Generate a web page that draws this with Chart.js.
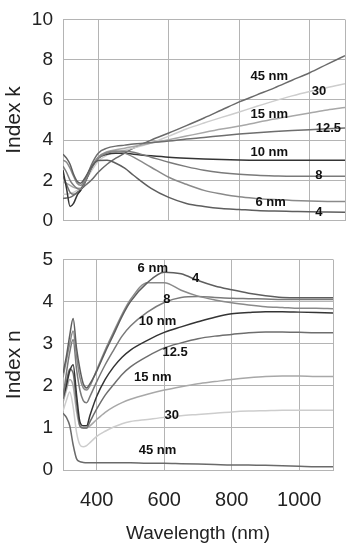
<!DOCTYPE html>
<html>
<head>
<meta charset="utf-8">
<script src="https://cdn.jsdelivr.net/npm/chart.js@4.4.1/dist/chart.umd.min.js"></script>
<style>
  html, body { margin: 0; padding: 0; background: #fff; }
  #wrap { position: relative; width: 353px; height: 550px; }
  canvas { position: absolute; left: 0; }
  #kChart { top: 0; }
  #nChart { top: 240px; }
</style>
</head>
<body>
<div id="wrap">
  <canvas id="kChart" width="353" height="240"></canvas>
  <canvas id="nChart" width="353" height="310"></canvas>
</div>
<script>
// --- data ---
const wavelengths = [300, 310, 320, 330, 340, 350, 360, 370, 380, 400, 425, 450, 475, 500, 550, 600, 650, 700, 750, 800, 850, 900, 950, 1000, 1050, 1100];
const thickness = ["4", "6", "8", "10", "12.5", "15", "30", "45"];

// extinction coefficient k
const k4   = [3.3, 3.1, 2.8, 2.3, 1.95, 1.85, 2.05, 2.35, 2.65, 2.98, 3.0, 2.85, 2.6, 2.25, 1.6, 1.15, 0.85, 0.7, 0.6, 0.55, 0.5, 0.47, 0.45, 0.43, 0.42, 0.41];
const k6   = [3.0, 2.9, 2.6, 2.2, 1.85, 1.75, 1.95, 2.3, 2.65, 3.15, 3.4, 3.45, 3.35, 3.15, 2.65, 2.15, 1.8, 1.5, 1.32, 1.18, 1.1, 1.04, 1.0, 0.97, 0.95, 0.94];
const k8   = [2.7, 2.4, 2.0, 1.75, 1.6, 1.55, 1.8, 2.2, 2.6, 3.1, 3.35, 3.45, 3.45, 3.4, 3.15, 2.9, 2.68, 2.5, 2.38, 2.3, 2.25, 2.22, 2.2, 2.2, 2.2, 2.2];
const k10  = [2.5, 1.6, 0.7, 0.85, 1.25, 1.5, 1.8, 2.2, 2.6, 3.1, 3.3, 3.35, 3.35, 3.3, 3.22, 3.15, 3.1, 3.06, 3.03, 3.01, 3.0, 3.0, 3.0, 3.0, 3.0, 3.0];
const k125 = [2.2, 1.8, 1.4, 1.3, 1.35, 1.5, 1.85, 2.3, 2.75, 3.35, 3.6, 3.7, 3.75, 3.8, 3.88, 3.95, 4.05, 4.13, 4.22, 4.3, 4.37, 4.43, 4.48, 4.52, 4.56, 4.6];
const k15  = [1.9, 1.85, 1.75, 1.65, 1.6, 1.6, 1.85, 2.2, 2.55, 3.15, 3.42, 3.52, 3.6, 3.68, 3.85, 4.02, 4.2, 4.38, 4.55, 4.7, 4.88, 5.05, 5.2, 5.35, 5.5, 5.62];
const k30  = [1.3, 1.3, 1.35, 1.4, 1.5, 1.6, 1.85, 2.15, 2.45, 2.95, 3.25, 3.4, 3.5, 3.6, 3.85, 4.2, 4.55, 4.85, 5.13, 5.4, 5.68, 5.95, 6.2, 6.42, 6.62, 6.8];
const k45  = [1.1, 1.12, 1.15, 1.25, 1.4, 1.55, 1.7, 1.85, 2.0, 2.4, 2.8, 3.1, 3.35, 3.6, 4.0, 4.35, 4.72, 5.1, 5.5, 5.9, 6.25, 6.6, 6.98, 7.35, 7.78, 8.2];

// refractive index n
const n4   = [2.3, 2.7, 3.2, 3.6, 2.9, 2.4, 2.05, 1.95, 2.05, 2.35, 2.8, 3.22, 3.65, 4.0, 4.45, 4.7, 4.66, 4.5, 4.37, 4.28, 4.2, 4.14, 4.1, 4.09, 4.09, 4.09];
const n6   = [2.2, 2.6, 3.0, 3.3, 2.7, 2.2, 1.95, 1.9, 2.0, 2.38, 2.85, 3.28, 3.7, 4.05, 4.45, 4.45, 4.27, 4.13, 4.04, 3.97, 3.92, 3.88, 3.86, 3.84, 3.84, 3.83];
const n8   = [1.7, 2.3, 2.8, 3.1, 2.4, 1.9, 1.65, 1.6, 1.75, 2.1, 2.5, 2.85, 3.18, 3.42, 3.75, 3.98, 4.1, 4.12, 4.1, 4.08, 4.07, 4.06, 4.05, 4.05, 4.05, 4.05];
const n10  = [1.7, 2.0, 2.35, 2.5, 1.8, 1.15, 1.05, 1.05, 1.3, 1.75, 2.15, 2.45, 2.68, 2.85, 3.08, 3.27, 3.4, 3.52, 3.63, 3.71, 3.74, 3.76, 3.76, 3.75, 3.74, 3.73];
const n125 = [1.8, 2.1, 2.4, 2.3, 1.6, 1.05, 1.0, 1.0, 1.15, 1.45, 1.78, 2.03, 2.27, 2.45, 2.7, 2.9, 3.02, 3.12, 3.18, 3.22, 3.26, 3.28, 3.28, 3.27, 3.26, 3.26];
const n15  = [1.6, 1.9, 2.15, 2.0, 1.4, 1.05, 1.0, 1.0, 1.05, 1.2, 1.37, 1.5, 1.6, 1.68, 1.8, 1.9, 1.98, 2.05, 2.1, 2.15, 2.19, 2.22, 2.23, 2.23, 2.22, 2.22];
const n30  = [1.4, 1.65, 1.85, 1.5, 0.9, 0.6, 0.55, 0.58, 0.65, 0.8, 0.92, 1.02, 1.1, 1.15, 1.2, 1.25, 1.29, 1.32, 1.35, 1.38, 1.4, 1.41, 1.42, 1.42, 1.42, 1.42];
const n45  = [1.35, 1.25, 1.05, 0.6, 0.27, 0.2, 0.18, 0.17, 0.17, 0.17, 0.17, 0.17, 0.17, 0.17, 0.16, 0.16, 0.15, 0.14, 0.13, 0.12, 0.12, 0.11, 0.1, 0.09, 0.08, 0.08];

const xGrid = [300, 400, 600, 800, 1000, 1100];
const xTickLabels = [400, 600, 800, 1000];

// curve labels: [text, wavelength, value]
const kLabels = [["45 nm", 885, 7.18], ["30", 1026, 6.4], ["15 nm", 885, 5.3], ["12.5", 1053, 4.59],
                 ["10 nm", 885, 3.41], ["8", 1026, 2.23], ["6 nm", 889, 0.9], ["4", 1026, 0.42]];
const nLabels = [["6 nm", 566, 4.78], ["4", 693, 4.54], ["8", 608, 4.05], ["10 nm", 580, 3.54],
                 ["12.5", 632, 2.79], ["15 nm", 566, 2.2], ["30", 622, 1.3], ["45 nm", 580, 0.47]];

const lineColors = ["#5e5e5e", "#8a8a8a", "#7a7a7a", "#343434", "#6e6e6e", "#a8a8a8", "#cdcdcd", "#6a6a6a"];

const SANS = '"Liberation Sans", Arial, sans-serif';
const GRID = "#b4b4b4";

function labelPlugin(items) {
  return {
    id: "curveLabels",
    afterDatasetsDraw(chart) {
      const { ctx, scales: { x, y } } = chart;
      ctx.save();
      ctx.font = "bold 13px " + SANS;
      ctx.fillStyle = "#111";
      ctx.textAlign = "center";
      ctx.textBaseline = "middle";
      items.forEach(([text, wl, v]) => ctx.fillText(text, x.getPixelForValue(wl), y.getPixelForValue(v)));
      ctx.restore();
    }
  };
}

function makeChart(id, series, yMax, yStep, yTitle, bottomPanel, labels) {
  return new Chart(document.getElementById(id), {
    type: "line",
    data: {
      datasets: series.map((vals, i) => ({
        label: thickness[i] + " nm",
        data: vals.map((v, j) => ({ x: wavelengths[j], y: v })),
        borderColor: lineColors[i],
        borderWidth: 1.5,
        pointRadius: 0,
        cubicInterpolationMode: "monotone",
        fill: false
      }))
    },
    options: {
      responsive: false,
      animation: false,
      layout: { padding: bottomPanel ? { top: 18, bottom: 0, left: 0, right: 8 } : { top: 12, bottom: 16, left: 0, right: 8 } },
      plugins: { legend: { display: false }, tooltip: { enabled: false } },
      scales: {
        x: {
          type: "linear",
          min: 300,
          max: 1100,
          afterBuildTicks: s => { s.ticks = xGrid.map(v => ({ value: v })); },
          afterFit: s => { s.height = bottomPanel ? 80 : 0; },
          grid: { color: GRID, drawTicks: false },
          border: { color: GRID },
          ticks: {
            display: bottomPanel,
            padding: 20,
            color: "#222",
            font: { family: SANS, size: 20, lineHeight: 1 },
            maxRotation: 0,
            autoSkip: false,
            callback: v => xTickLabels.includes(v) ? String(v) : ""
          },
          title: {
            display: bottomPanel,
            text: "Wavelength (nm)",
            color: "#222",
            font: { family: SANS, size: 19 },
            padding: { top: 0, bottom: 5 }
          }
        },
        y: {
          min: 0,
          max: yMax,
          afterFit: s => { s.width = 63; },
          grid: { color: GRID, drawTicks: false },
          border: { color: GRID },
          ticks: {
            stepSize: yStep,
            padding: 10,
            color: "#222",
            font: { family: SANS, size: 19, lineHeight: 1 }
          },
          title: {
            display: true,
            text: yTitle,
            color: "#222",
            font: { family: SANS, size: 21 },
            padding: { top: 2, bottom: 0 }
          }
        }
      }
    },
    plugins: [labelPlugin(labels)]
  });
}

makeChart("kChart", [k4, k6, k8, k10, k125, k15, k30, k45], 10, 2, "Index k", false, kLabels);
makeChart("nChart", [n4, n6, n8, n10, n125, n15, n30, n45], 5, 1, "Index n", true, nLabels);
</script>
</body>
</html>
